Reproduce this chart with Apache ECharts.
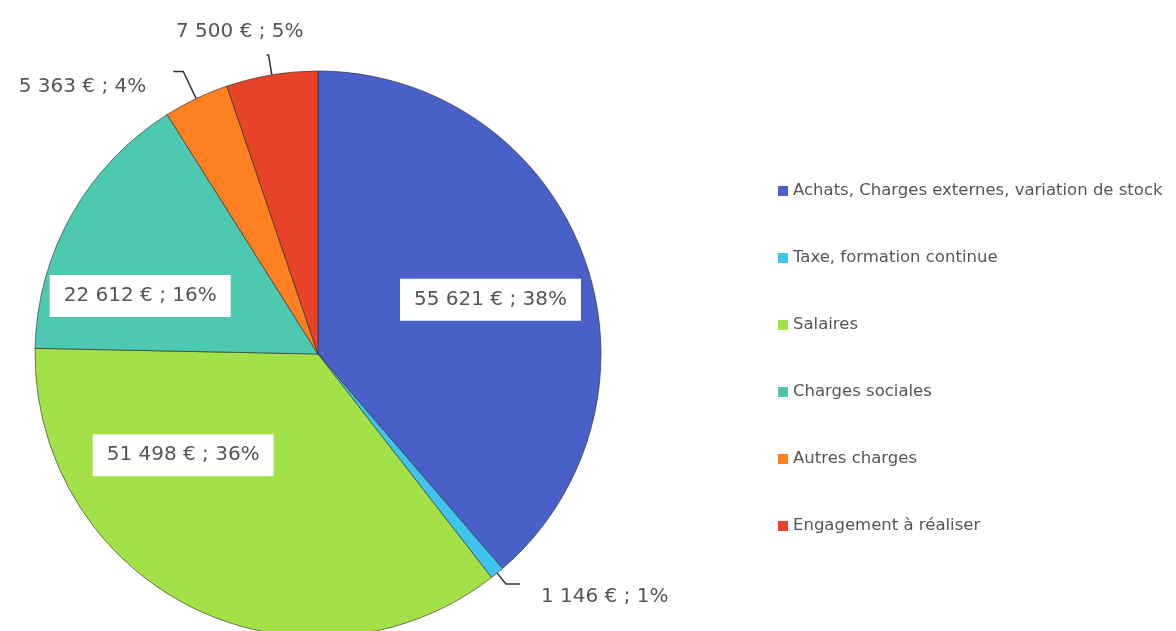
<!DOCTYPE html>
<html>
<head>
<meta charset="utf-8">
<script src="https://cdn.jsdelivr.net/npm/echarts@6/dist/echarts.min.js"></script>
<style>html,body{margin:0;padding:0;background:#fff}#c{width:1176px;height:631px}</style>
</head>
<body>
<div id="c"></div>
<script>
const categories = ["Achats, Charges externes, variation de stock", "Taxe, formation continue", "Salaires", "Charges sociales", "Autres charges", "Engagement à réaliser"];
const values = [55621, 1146, 51498, 22612, 5363, 7500];

const palette = ['#4a60c9', '#40c3ee', '#a2e148', '#4ec9b1', '#ff8020', '#e8442a'];
const fontFam = '"DejaVu Sans", sans-serif';
const fmt = v => String(v).replace(/\B(?=(\d{3})+(?!\d))/g, ' ');
const labelFmt = p => fmt(p.value) + ' € ; ' + p.percent + '%';

const insideLabel = (offset) => ({
  show: true, position: 'inside', offset: offset,
  backgroundColor: '#fff', padding: [12, 14, 10, 14],
  color: '#555', fontSize: 20, fontFamily: fontFam
});
const outsideLabel = (len, len2) => ({
  label: { show: true, position: 'outside', color: '#555', fontSize: 20, fontFamily: fontFam },
  labelLine: { show: true, length: len, length2: len2, smooth: false, lineStyle: { color: '#333', width: 1.5 } }
});

const itemOpts = [
  { label: insideLabel([37, -4]) },
  outsideLabel(14, 14),
  { label: insideLabel([-70, -28]) },
  { label: insideLabel([-52, 13]) },
  outsideLabel(30, 10),
  outsideLabel(20, 2)
];
// small nudges of outside labels relative to their leader-line ends
const labelNudge = { 1: { dx: 16, dy: 13 }, 4: { dx: -22, dy: 15 }, 5: { dx: 42, dy: -23 } };

const data = categories.map((n, i) => Object.assign({ name: n, value: values[i] }, itemOpts[i]));

const chart = echarts.init(document.getElementById('c'));
chart.setOption({
  animation: false,
  color: palette,
  legend: {
    orient: 'vertical', left: 773, top: 176,
    itemWidth: 10, itemHeight: 10, itemGap: 47,
    icon: 'rect',
    itemStyle: { borderWidth: 0 },
    textStyle: { color: '#555', fontSize: 16.5, lineHeight: 20, fontFamily: fontFam },
    data: categories
  },
  series: [{
    type: 'pie',
    center: [318, 354],
    radius: [0, 283],
    startAngle: 90,
    clockwise: true,
    percentPrecision: 0,
    avoidLabelOverlap: false,
    labelLayout: p => Object.assign({ hideOverlap: false }, labelNudge[p.dataIndex] || {}),
    itemStyle: { borderColor: 'rgba(40,40,40,0.6)', borderWidth: 1 },
    label: { formatter: labelFmt },
    labelLine: { show: false },
    emphasis: { disabled: true },
    data: data
  }]
});
</script>
</body>
</html>
